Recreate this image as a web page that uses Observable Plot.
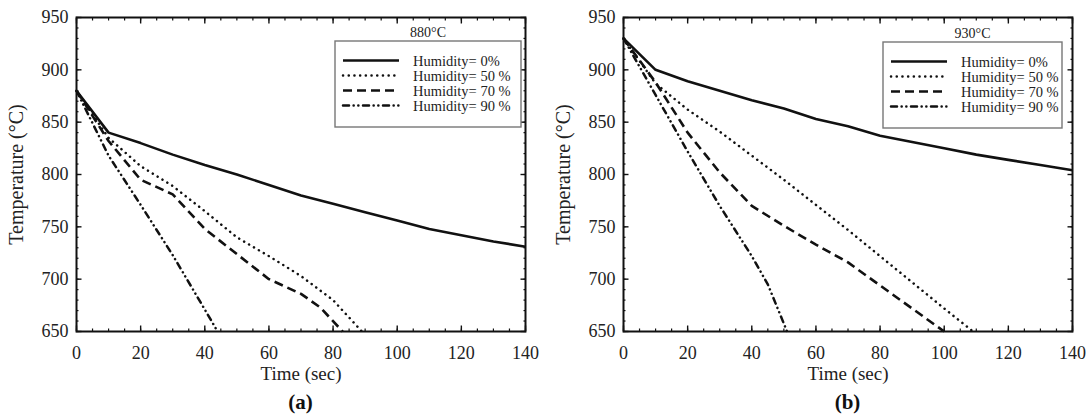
<!DOCTYPE html>
<html><head><meta charset="utf-8">
<script src="https://cdn.jsdelivr.net/npm/d3@7"></script>
<script src="https://cdn.jsdelivr.net/npm/@observablehq/plot@0.6"></script>
<style>
body{margin:0;background:#fff;font-family:"Liberation Serif","Times New Roman",serif;}
#wrap{display:flex;width:1086px;}
.panel{position:relative;}
.panel svg text{font-family:"Liberation Serif","Times New Roman",serif !important;}
.cap{font-weight:bold;font-size:21px;line-height:28px;text-align:center;color:#111;margin-top:4px;}
.legend{position:absolute;}
</style></head><body><div id="wrap"></div>
<script>
// ---- data ----
const seriesNames = ["Humidity= 0%", "Humidity= 50 %", "Humidity= 70 %", "Humidity= 90 %"];
const panelTitles = ["880°C", "930°C"];
const panelCaptions = ["(a)", "(b)"];
const xMajor = [0, 20, 40, 60, 80, 100, 120, 140];
const yMajor = [650, 700, 750, 800, 850, 900, 950];

// Panel (a) 880°C
const a0_t = [0, 10, 20, 30, 40, 50, 60, 70, 80, 90, 100, 110, 120, 130, 140];
const a0_T = [880, 840, 830, 819, 809, 800, 790, 780, 772, 764, 756, 748, 742, 736, 731];
const a50_t = [0, 10, 20, 30, 40, 50, 60, 70, 80, 89];
const a50_T = [880, 835, 808, 789, 765, 740, 722, 703, 680, 650];
const a70_t = [0, 10, 20, 30, 40, 50, 60, 70, 76, 83];
const a70_T = [880, 832, 795, 781, 748, 724, 700, 686, 673, 650];
const a90_t = [0, 10, 20, 30, 40, 44];
const a90_T = [880, 818, 771, 723, 671, 650];

// Panel (b) 930°C
const b0_t = [0, 10, 20, 30, 40, 50, 60, 70, 80, 90, 100, 110, 120, 130, 140];
const b0_T = [930, 900, 889, 880, 871, 863, 853, 846, 837, 831, 825, 819, 814, 809, 804];
const b50_t = [0, 10, 20, 30, 40, 50, 60, 70, 80, 90, 100, 109];
const b50_T = [930, 887, 862, 841, 818, 795, 771, 747, 722, 697, 672, 650];
const b70_t = [0, 10, 20, 30, 40, 50, 60, 70, 80, 90, 100];
const b70_T = [930, 888, 840, 802, 770, 751, 733, 716, 694, 672, 650];
const b90_t = [0, 10, 20, 30, 40, 45, 51];
const b90_T = [930, 876, 822, 770, 722, 695, 650];

// ---- styles ----
const styles = [
  {dash: null, cap: "butt", w: 2.6},
  {dash: "0.1 5.6", cap: "round", w: 2.5},
  {dash: "9 5", cap: "butt", w: 2.6},
  {dash: "6 4.6 0.1 4.6 0.1 4.6", cap: "round", w: 2.5}
];
const font = "Liberation Serif, Times New Roman, serif";
const ink = "#111";

function toRows(t, T, s) { return t.map((d, i) => ({t: d, T: T[i], s})); }
const xMinor = d3.range(0, 141, 5);
const yMinor = d3.range(650, 951, 10);

const panels = [
  {w: 546, ml: 76, mr: 21, series: [[a0_t, a0_T], [a50_t, a50_T], [a70_t, a70_T], [a90_t, a90_T]],
   box: {left: 335, top: 41, w: 186, h: 86}},
  {w: 540, ml: 77, mr: 14, series: [[b0_t, b0_T], [b50_t, b50_T], [b70_t, b70_T], [b90_t, b90_T]],
   box: {left: 337, top: 42, w: 179, h: 86}}
];

const wrap = document.getElementById("wrap");
panels.forEach((p, pi) => {
  const div = document.createElement("div");
  div.className = "panel";
  div.style.width = p.w + "px";
  const lines = p.series.map(([t, T], si) => Plot.line(toRows(t, T, si), {
    x: "t", y: "T", stroke: ink, strokeWidth: styles[si].w,
    strokeDasharray: styles[si].dash, strokeLinecap: styles[si].cap, strokeLinejoin: "round"
  }));
  const blank = () => "";
  const chart = Plot.plot({
    width: p.w, height: 384,
    marginLeft: p.ml, marginRight: p.mr, marginTop: 17, marginBottom: 53,
    style: "font-family: 'Liberation Serif', 'Times New Roman', serif; font-size: 18px; color: #222; background: white;",
    x: {domain: [0, 140]},
    y: {domain: [650, 950]},
    marks: [
      ...lines,
      Plot.axisX({anchor: "bottom", ticks: xMinor, tickSize: -2.5, tickFormat: blank, label: null, stroke: ink, strokeWidth: 1.2}),
      Plot.axisX({anchor: "bottom", ticks: xMajor, tickSize: -5.5, tickFormat: blank, label: null, stroke: ink, strokeWidth: 1.4}),
      Plot.axisX({anchor: "top", ticks: xMinor, tickSize: -2.5, tickFormat: blank, label: null, stroke: ink, strokeWidth: 1.2}),
      Plot.axisX({anchor: "top", ticks: xMajor, tickSize: -5.5, tickFormat: blank, label: null, stroke: ink, strokeWidth: 1.4}),
      Plot.axisY({anchor: "left", ticks: yMinor, tickSize: -2.5, tickFormat: blank, label: null, stroke: ink, strokeWidth: 1.2}),
      Plot.axisY({anchor: "left", ticks: yMajor, tickSize: -5.5, tickFormat: blank, label: null, stroke: ink, strokeWidth: 1.4}),
      Plot.axisY({anchor: "right", ticks: yMinor, tickSize: -2.5, tickFormat: blank, label: null, stroke: ink, strokeWidth: 1.2}),
      Plot.axisY({anchor: "right", ticks: yMajor, tickSize: -5.5, tickFormat: blank, label: null, stroke: ink, strokeWidth: 1.4}),
      // tick labels
      Plot.axisX({anchor: "bottom", ticks: xMajor, tickSize: 0, tickPadding: 15, tickFormat: d => String(d),
        label: null, fontSize: 18, fontFamily: font, fill: "#222"}),
      Plot.axisY({anchor: "left", ticks: yMajor, tickSize: 0, tickPadding: 8, tickFormat: d => String(d),
        label: null, fontSize: 18, fontFamily: font, fill: "#222"}),
      // axis titles
      Plot.axisX({anchor: "bottom", ticks: [], tickSize: 0,
        label: "Time (sec)", labelAnchor: "center", labelArrow: "none", labelOffset: 48,
        fontSize: 19, fontFamily: font, fill: "#222"}),
      Plot.axisY({anchor: "left", ticks: [], tickSize: 0,
        label: "Temperature (°C)", labelAnchor: "center", labelArrow: "none", labelOffset: 68,
        fontSize: 20, fontFamily: font, fill: "#222"}),
      Plot.frame({stroke: ink, strokeWidth: 2})
    ]
  });
  div.appendChild(chart);

  // legend overlay inside the frame
  const b = p.box;
  const lg = d3.select(div).append("svg").attr("class", "legend")
    .attr("width", b.w + 2).attr("height", b.h + 30)
    .style("left", (b.left - 1) + "px").style("top", (b.top - 29) + "px")
    .style("overflow", "visible");
  lg.append("text").attr("x", b.w / 2 + 1).attr("y", 25)
    .attr("text-anchor", "middle").attr("font-family", font).attr("font-size", 14).attr("fill", "#222")
    .text(panelTitles[pi]);
  const g = lg.append("g").attr("transform", "translate(1,29)");
  g.append("rect").attr("width", b.w).attr("height", b.h).attr("fill", "white")
    .attr("stroke", "#777").attr("stroke-width", 1.4);
  seriesNames.forEach((name, si) => {
    const yy = 19.5 + si * 15;
    g.append("line").attr("x1", 8).attr("x2", 64).attr("y1", yy).attr("y2", yy)
      .attr("stroke", ink).attr("stroke-width", styles[si].w)
      .attr("stroke-dasharray", styles[si].dash).attr("stroke-linecap", styles[si].cap);
    g.append("text").attr("x", 78).attr("y", yy).attr("dy", "0.35em")
      .attr("font-family", font).attr("font-size", 14.5).attr("fill", "#222").text(name);
  });

  const cap = document.createElement("div");
  cap.className = "cap";
  cap.style.paddingLeft = p.ml + "px";
  cap.style.paddingRight = p.mr + "px";
  cap.textContent = panelCaptions[pi];
  div.appendChild(cap);
  wrap.appendChild(div);
});
</script>
</body></html>
